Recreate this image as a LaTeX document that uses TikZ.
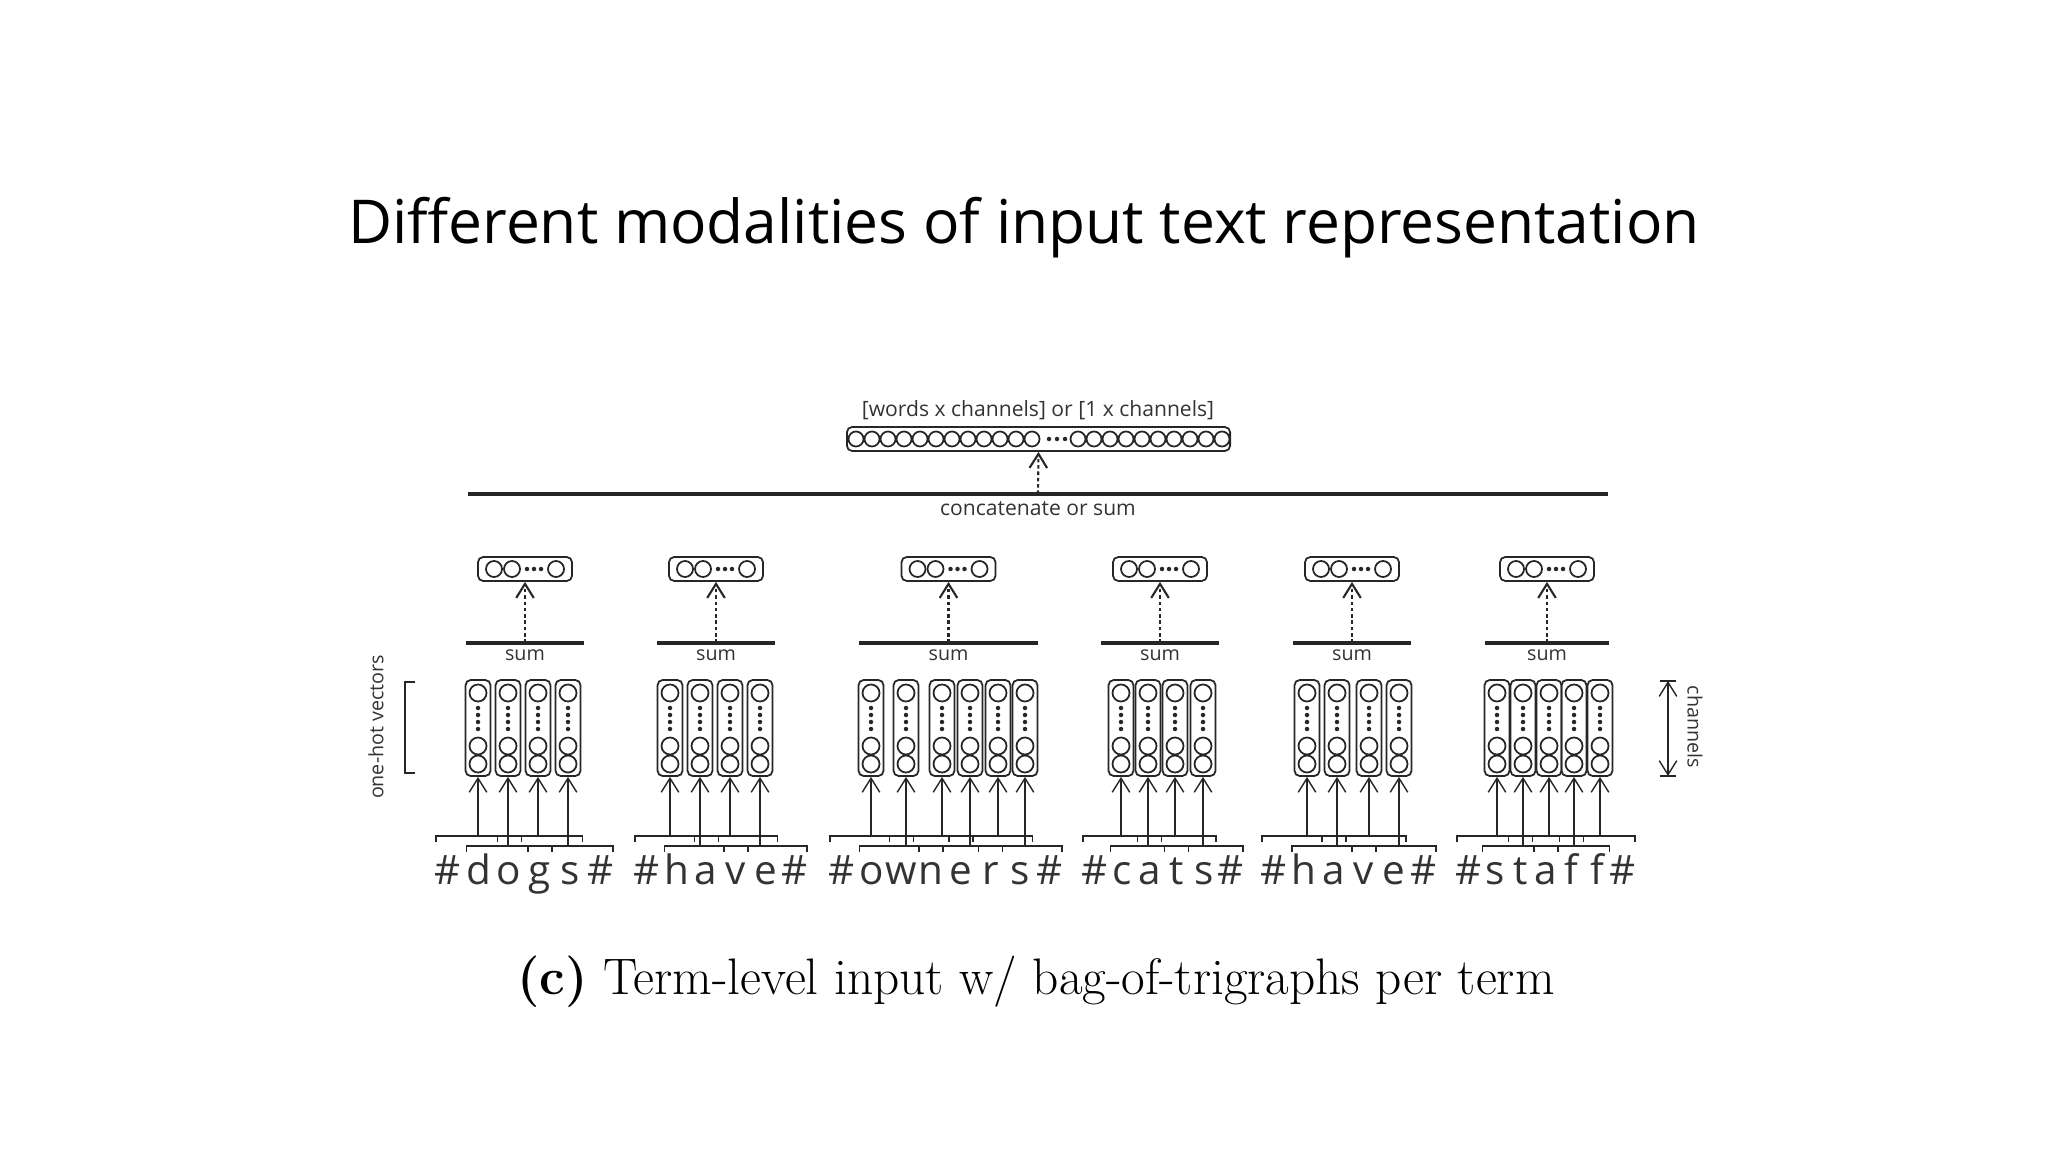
\documentclass[tikz,border=0pt]{standalone}
\usepackage{fontspec}
\setmainfont{Open Sans}
\usetikzlibrary{arrows.meta}
\begin{document}
\begin{tikzpicture}[x=0.01cm,y=-0.01cm,
  ln/.style={line width=0.4pt,draw=black!85},
  circ/.style={circle,draw=black!85,line width=0.5pt,inner sep=0pt,minimum size=#1},
  dotf/.style={circle,fill=black!85,inner sep=0pt,minimum size=4.5pt},
  vecbox/.style={draw=black!85,rounded corners=1.5pt,line width=0.5pt,inner sep=0pt},
  arr/.style={ln,-{Straight Barb[length=4pt,width=5pt]}},
  darr/.style={ln,dash pattern=on 1pt off 0.8pt,line width=0.6pt,-{Straight Barb[length=4pt,width=5pt]}},
  sumline/.style={line width=0.9pt,draw=black!85},
  small/.style={font=\fontsize{5.6}{6}\selectfont,text=black!80,inner sep=0pt},
  letter/.style={font=\fontsize{11.5}{14}\selectfont,text=black!80,inner sep=0pt,anchor=base}]
\path[use as bounding box] (0,0) rectangle (2048,1152);
\node[font=\fontsize{17.2}{20}\selectfont] (title) at (1024,228) {Different modalities of input text representation};
% top vector
\node[vecbox,minimum width=3.83cm,minimum height=0.24cm] (top) at (1038.5,439) {};
\foreach \i in {0,...,11} \node[circ=0.15cm] at (856+\i*16,439) {};
\foreach \i in {0,...,2} \node[dotf,minimum size=0.045cm] at (1049+\i*8,439) {};
\foreach \i in {0,...,9} \node[circ=0.15cm] at (1078+\i*16,439) {};
\node[small,font=\fontsize{6}{7}\selectfont] (toplab) at (1038,410) {[words x channels] or [1 x channels]};
\draw[sumline] (468,494) -- (1608,494);
\coordinate (cat) at (1038,494);
\node[small,font=\fontsize{6}{7}\selectfont] (catlab) at (1038,509) {concatenate or sum};
\draw[darr] (cat) -- (top.south);
% words
\foreach \wi/\n/\xs/\xe/\lx/\rx/\chars/\cols in {
 1/6/448/601/466/584/{\#,d,o,g,s,\#}/{478,508,538,568},
 2/6/647/795/657/775/{\#,h,a,v,e,\#}/{670,700,730,760},
 3/8/842/1050/859/1038/{\#,o,w,n,e,r,s,\#}/{871,906,942,970,998,1025},
 4/6/1095/1231/1101/1219/{\#,c,a,t,s,\#}/{1121,1148,1175,1203},
 5/6/1274/1424/1293/1411/{\#,h,a,v,e,\#}/{1307,1337,1369,1399},
 6/7/1469/1623/1485/1609/{\#,s,t,a,f,f,\#}/{1497,1523,1549,1574,1600}} {
  \pgfmathsetmacro\st{(\xe-\xs)/(\n-1)}
  \foreach \ch [count=\k from 0] in \chars {
    \node[letter] (w\wi-\k) at (\xs+\k*\st,884) {\ch};
  }
  \pgfmathsetmacro\mx{(\lx+\rx)/2}
  \draw[sumline] (\lx,643) -- (\rx,643);
  \coordinate (s\wi) at (\mx,643);
  \node[small] (sl\wi) at (\mx,655) {sum};
  \node[vecbox,minimum width=0.94cm,minimum height=0.24cm] (v\wi) at (\mx,569) {};
  \node[circ=0.16cm] at (\mx-31,569) {};
  \node[circ=0.16cm] at (\mx-13,569) {};
  \foreach \d in {2,9,16} \node[dotf,minimum size=0.045cm] at (\mx+\d,569) {};
  \node[circ=0.16cm] at (\mx+31,569) {};
  \draw[darr] (s\wi) -- (v\wi.south);
  \foreach \cx [count=\k from 0] in \cols {
    \node[vecbox,minimum width=0.25cm,minimum height=0.96cm] (c\wi-\k) at (\cx,728) {};
    \node[circ=0.17cm] at (\cx,693) {};
    \foreach \d in {708,715,722,729} \node[dotf,minimum size=0.045cm] at (\cx,\d) {};
    \node[circ=0.17cm] at (\cx,746) {};
    \node[circ=0.17cm] at (\cx,764) {};
    \pgfmathsetmacro\bl{\xs+\k*\st-12}
    \pgfmathsetmacro\br{\xs+(\k+2)*\st+12}
    \pgfmathsetmacro\by{836+10*mod(\k,2)}
    \draw[ln] (\bl,\by+6) -- (\bl,\by) -- (\br,\by) -- (\br,\by+6);
    \coordinate (b\wi-\k) at (\cx,\by);
    \draw[arr] (b\wi-\k) -- (c\wi-\k.south);
  }
}
% side labels
\draw[ln] (415,682) -- (405,682) -- (405,773) -- (415,773);
\node[small,rotate=90] (oh) at (376,727) {one-hot vectors};
\coordinate (ch1) at (1668,681);
\coordinate (ch2) at (1668,776);
\draw[ln] (1660,681) -- (1676,681);
\draw[ln] (1660,776) -- (1676,776);
\draw[ln,{Straight Barb[length=4pt,width=5pt]}-{Straight Barb[length=4pt,width=5pt]}] (ch1) -- (ch2);
\node[small,rotate=-90] (chl) at (1695,727) {channels};
% caption
\node[font=\fontsize{14.6}{17}\selectfont] (cap) at (1036,982) {\fontspec{Latin Modern Roman}\textbf{(c)} Term-level input w/ bag-of-trigraphs per term};
\end{tikzpicture}
\end{document}
